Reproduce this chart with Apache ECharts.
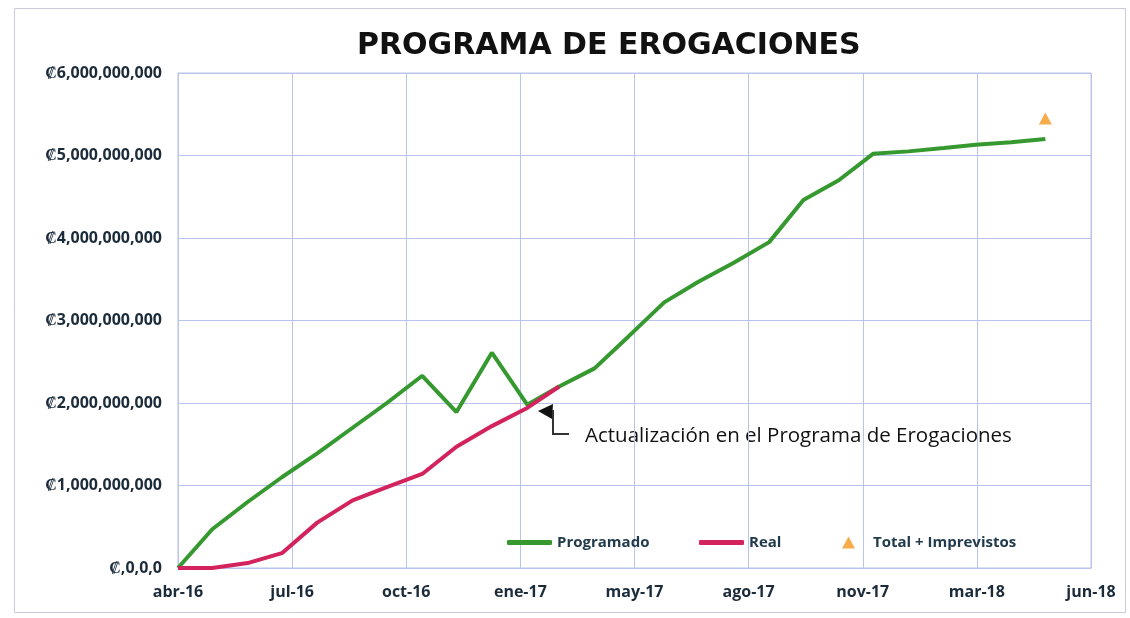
<!DOCTYPE html>
<html>
<head>
<meta charset="utf-8">
<title>Programa de Erogaciones</title>
<script src="https://cdn.jsdelivr.net/npm/echarts@6/dist/echarts.min.js"></script>
<style>
  html, body { margin: 0; padding: 0; background: #ffffff; }
  #chart { width: 1130px; height: 618px; }
</style>
</head>
<body>
<div id="chart"></div>
<script>
// meses (primer dia de cada mes)
var months = [
  "2016-04", "2016-05", "2016-06", "2016-07", "2016-08", "2016-09",
  "2016-10", "2016-11", "2016-12", "2017-01", "2017-02", "2017-03",
  "2017-04", "2017-05", "2017-06", "2017-07", "2017-08", "2017-09",
  "2017-10", "2017-11", "2017-12", "2018-01", "2018-02", "2018-03",
  "2018-04", "2018-05"
];
// programado (colones)
var programado = [
  0, 0.47e9, 0.80e9, 1.10e9, 1.39e9, 1.70e9, 2.00e9, 2.33e9, 1.89e9,
  2.61e9, 1.98e9, 2.20e9, 2.42e9, 2.81e9, 3.22e9, 3.47e9, 3.70e9,
  3.95e9, 4.46e9, 4.70e9, 5.02e9, 5.05e9, 5.09e9, 5.13e9, 5.16e9, 5.20e9
];
// real (colones)
var real = [
  0, 0, 0.06e9, 0.18e9, 0.55e9, 0.82e9, 0.98e9, 1.14e9, 1.47e9,
  1.72e9, 1.94e9, 2.20e9
];
// total + imprevistos
var totalMes = "2018-05";
var totalValor = 5.45e9;

var xTickLabels = ["abr-16", "jul-16", "oct-16", "ene-17", "may-17", "ago-17", "nov-17", "mar-18", "jun-18"];
var yTickLabels = ["₡,0,0,0", "₡1,000,000,000", "₡2,000,000,000", "₡3,000,000,000",
  "₡4,000,000,000", "₡5,000,000,000", "₡6,000,000,000"];

// dias desde abr-16
function dias(m) {
  var p = m.split("-");
  var t0 = Date.UTC(2016, 3, 1);
  return Math.round((Date.UTC(+p[0], +p[1] - 1, 1) - t0) / 86400000);
}

var progData = [];
for (var i = 0; i < programado.length; i++) {
  progData.push([dias(months[i]), programado[i]]);
}
var realData = [];
for (var j = 0; j < real.length; j++) {
  realData.push([dias(months[j]), real[j]]);
}

var myChart = echarts.init(document.getElementById("chart"), null, { renderer: "canvas" });

var gridColor = "#b9c3ec";
var labelColor = "#1c2b3a";
var legendText = {
  color: "#213b4c",
  fontFamily: "Open Sans",
  fontWeight: "bold",
  fontSize: 15
};

var option = {
  animation: false,
  backgroundColor: "#ffffff",
  title: {
    text: "PROGRAMA DE EROGACIONES",
    left: 352,
    top: 26,
    textStyle: {
      fontFamily: "DejaVu Sans",
      fontWeight: "bold",
      fontSize: 30,
      color: "#111111"
    }
  },
  grid: {
    left: 178,
    right: 39,
    top: 73,
    bottom: 50,
    show: true,
    borderColor: gridColor,
    borderWidth: 1
  },
  xAxis: {
    type: "value",
    min: 0,
    max: 800,
    interval: 100,
    axisTick: { show: false },
    axisLine: { show: true, lineStyle: { color: gridColor, width: 1 } },
    splitLine: { show: true, lineStyle: { color: gridColor, width: 1 } },
    axisLabel: {
      margin: 16,
      color: labelColor,
      fontFamily: "Open Sans",
      fontWeight: "bold",
      fontSize: 16,
      formatter: function (v) {
        return xTickLabels[Math.round(v / 100)];
      }
    }
  },
  yAxis: {
    type: "value",
    min: 0,
    max: 6e9,
    interval: 1e9,
    axisTick: { show: false },
    axisLine: { show: true, lineStyle: { color: gridColor, width: 1 } },
    splitLine: { show: true, lineStyle: { color: gridColor, width: 1 } },
    axisLabel: {
      margin: 16,
      color: labelColor,
      fontFamily: "Open Sans",
      fontWeight: "bold",
      fontSize: 16,
      formatter: function (v) {
        return yTickLabels[Math.round(v / 1e9)];
      }
    }
  },
  legend: [
    {
      data: ["Programado"],
      left: 502,
      top: 530,
      icon: "roundRect",
      itemWidth: 45,
      itemHeight: 5,
      itemGap: 0,
      textStyle: legendText
    },
    {
      data: ["Real"],
      left: 694,
      top: 530,
      icon: "roundRect",
      itemWidth: 45,
      itemHeight: 5,
      itemGap: 0,
      textStyle: legendText
    },
    {
      data: ["Total + Imprevistos"],
      left: 837,
      top: 530,
      icon: "triangle",
      itemWidth: 13,
      itemHeight: 12,
      itemGap: 0,
      textStyle: Object.assign({}, legendText, { padding: [0, 0, 0, 13] })
    }
  ],
  series: [
    {
      name: "Programado",
      type: "line",
      data: progData,
      showSymbol: false,
      symbol: "none",
      color: "#35992f",
      lineStyle: { color: "#35992f", width: 4 }
    },
    {
      name: "Real",
      type: "line",
      data: realData,
      showSymbol: false,
      symbol: "none",
      color: "#d2235c",
      lineStyle: { color: "#d2235c", width: 4 }
    },
    {
      name: "Total + Imprevistos",
      type: "scatter",
      data: [[dias(totalMes), totalValor]],
      symbol: "triangle",
      symbolSize: [13, 12],
      color: "#f5961e",
      itemStyle: { color: "#f5961e" }
    }
  ],
  graphic: [
    {
      type: "rect",
      silent: true,
      shape: { x: 14.5, y: 8.5, width: 1111, height: 604 },
      style: { fill: null, stroke: "#c9ccd8", lineWidth: 1 }
    },
    {
      type: "polygon",
      silent: true,
      shape: { points: [[538, 411], [553, 404], [552, 419]] },
      style: { fill: "#111111" }
    },
    {
      type: "polyline",
      silent: true,
      shape: { points: [[553, 410], [553, 434], [569, 434]] },
      style: { stroke: "#333333", lineWidth: 2, fill: null }
    },
    {
      type: "text",
      silent: true,
      left: 585,
      top: 426,
      style: {
        text: "Actualización en el Programa de Erogaciones",
        fill: "#111111",
        fontFamily: "Open Sans",
        fontSize: 20.5
      }
    }
  ]
};

myChart.setOption(option);
window.addEventListener("resize", function () {
  myChart.resize();
});
</script>
</body>
</html>
